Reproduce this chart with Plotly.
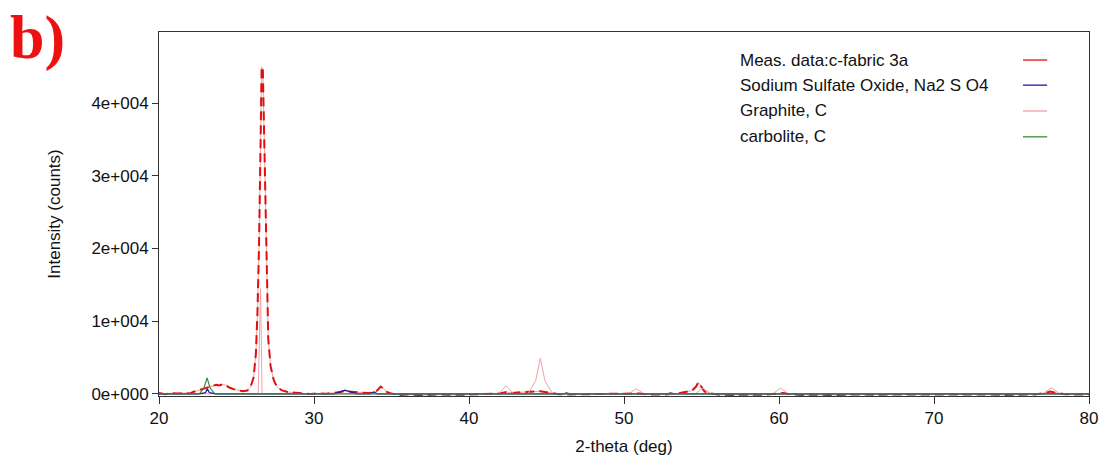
import plotly.graph_objects as go

# ---------------- data ----------------
meas_2theta = [20.0, 20.4, 20.8, 21.2, 21.6, 22.0, 22.2, 22.5, 22.8, 23.1, 23.4, 23.7, 23.9, 24.1,
               24.3, 24.5, 24.8, 25.1, 25.4, 25.7, 25.9, 26.1, 26.25, 26.35, 26.45, 26.55, 26.62,
               26.7, 26.78, 26.86, 26.95, 27.05, 27.2, 27.4, 27.6, 27.9, 28.3, 28.8, 29.3, 29.8,
               30.3, 30.8, 31.3, 31.7, 32.0, 32.3, 32.7, 33.1, 33.5, 33.9, 34.1, 34.3, 34.5, 34.7,
               35.0, 35.5, 36.0, 37.0, 38.0, 39.0, 40.0, 41.0, 42.0, 42.4, 42.8, 43.3, 44.0, 44.6,
               45.2, 45.8, 46.5, 47.5, 48.5, 49.5, 50.5, 51.0, 51.5, 52.5, 53.5, 54.0, 54.4, 54.65,
               54.8, 54.95, 55.2, 55.6, 56.2, 57.0, 58.0, 59.0, 60.0, 60.3, 60.7, 61.5, 62.5, 63.5,
               64.5, 65.5, 66.5, 67.5, 68.5, 69.5, 70.5, 71.5, 72.5, 73.5, 74.5, 75.5, 76.5, 77.2,
               77.5, 77.9, 78.5, 79.2, 80.0]
meas_counts = [120, -50, 80, 30, 110, 60, 250, 450, 650, 850, 1050, 1250, 1150, 1300,
               1200, 900, 650, 500, 350, 450, 900, 2200, 5500, 11000, 20000, 34000, 45000,
               44500, 36000, 24000, 14000, 7500, 3800, 1900, 1000, 500, 250, 100, 50, -30,
               60, 20, 120, 250, 380, 300, 200, 150, 120, 200, 500, 1000, 700, 250,
               30, -150, -100, -180, -80, -150, -100, -60, 50, 250, 100, 200, 250, 350,
               150, -50, -80, -60, -100, -80, -50, 50, -80, -100, 50, 250, 450, 1000,
               1600, 1100, 300, 50, -120, -150, -100, -120, 50, 100, -50, -150, -120, -180,
               -100, -150, -120, -100, -150, -100, -80, -60, -120, -100, -150, -120, -80, 100,
               300, 100, -60, -100, -80]

graphite_2theta = [20.0, 26.4, 26.55, 26.65, 41.9, 42.4, 42.9, 43.8, 44.3, 44.6, 44.9, 45.4,
                   50.3, 50.8, 51.3, 54.6, 55.1, 55.6, 59.6, 60.1, 60.6, 77.0, 77.6, 78.1, 80.0]
graphite_counts = [0, 0, 14500, 0, 0, 1100, 0, 0, 1800, 4900, 1800, 0,
                   0, 700, 0, 0, 800, 0, 0, 800, 0, 0, 850, 0, 0]

sulfate_2theta = [20.0, 22.6, 23.0, 23.12, 23.25, 23.7, 31.3, 31.8, 32.0, 32.3, 32.8, 33.6,
                  33.85, 34.1, 46.1, 46.3, 46.5, 52.8, 53.0, 53.2, 80.0]
sulfate_counts = [0, 0, 150, 700, 150, 0, 0, 350, 500, 300, 0, 0,
                  250, 0, 0, 120, 0, 0, 120, 0, 0]

carbolite_2theta = [20.0, 22.6, 22.9, 23.1, 23.3, 23.6, 80.0]
carbolite_counts = [0, 0, 800, 2200, 800, 0, 0]

series_names = ["Meas. data:c-fabric 3a", "Sodium Sulfate Oxide, Na2 S O4", "Graphite, C", "carbolite, C"]
series_colors = ["#e01010", "#1a1aa8", "#f2a0a8", "#3a8a3a"]
series_widths = [2.0, 1.3, 1.0, 1.2]

y_tickvals = [0, 10000, 20000, 30000, 40000]
y_ticktext = ["0e+000", "1e+004", "2e+004", "3e+004", "4e+004"]
x_tickvals = [20, 30, 40, 50, 60, 70, 80]

# ---------------- figure ----------------
fig = go.Figure()
xs = [meas_2theta, sulfate_2theta, graphite_2theta, carbolite_2theta]
ys = [meas_counts, sulfate_counts, graphite_counts, carbolite_counts]

# thin light underlay of the measured pattern (seen between the red dashes in the reference)
fig.add_trace(go.Scatter(x=meas_2theta, y=meas_counts, mode="lines", hoverinfo="skip",
                         line=dict(color="#f4a0a0", width=1), showlegend=False))
draw_order = [0, 2, 1, 3]
for i in draw_order:
    dash = "9px,5px" if i == 0 else "solid"
    fig.add_trace(go.Scatter(x=xs[i], y=ys[i], mode="lines", name=series_names[i],
                             line=dict(color=series_colors[i], width=series_widths[i], dash=dash),
                             showlegend=False))

FONT = "Liberation Sans, Arial, sans-serif"

# custom legend (text left, line sample right), as in the reference
leg_y = [0.923, 0.854, 0.783, 0.712]
for name, col, yy in zip(series_names, series_colors, leg_y):
    fig.add_annotation(xref="paper", yref="paper", x=0.6226, y=yy, text=name,
                       showarrow=False, xanchor="left", yanchor="middle",
                       font=dict(family=FONT, size=17, color="#111"))
    fig.add_shape(type="line", xref="paper", yref="paper", x0=0.929, x1=0.955, y0=yy, y1=yy,
                  line=dict(color=col, width=1.3))

# panel label
fig.add_annotation(xref="paper", yref="paper", x=-0.162, y=1.085, text="<b>b)</b>",
                   showarrow=False, xanchor="left", yanchor="top",
                   font=dict(family="Liberation Serif, Times New Roman, serif", size=62, color="#ee1111"))

fig.update_layout(
    width=1104, height=460,
    margin=dict(l=159, r=15, t=32, b=64, autoexpand=False),
    paper_bgcolor="white", plot_bgcolor="white",
    font=dict(family=FONT, size=17, color="#111"),
    xaxis=dict(range=[20, 80], tickvals=x_tickvals, ticks="outside", ticklen=7, tickwidth=1,
               tickcolor="#333", showline=True, linecolor="#333", linewidth=1, mirror=True,
               showgrid=False, zeroline=False, automargin=False,
               title=dict(text="2-theta (deg)", font=dict(family=FONT, size=17), standoff=12)),
    yaxis=dict(range=[-300, 49800], tickvals=y_tickvals, ticktext=y_ticktext, ticks="outside",
               ticklen=6, tickwidth=1, tickcolor="#333", showline=True, linecolor="#333",
               linewidth=1, mirror=True, showgrid=False, zeroline=False, automargin=False,
               title=dict(text="Intensity (counts)", font=dict(family=FONT, size=17), standoff=26)),
)

fig.write_html("out.html", config={"displayModeBar": False},
               post_script="document.body.style.margin='0';document.body.style.overflow='hidden';")
